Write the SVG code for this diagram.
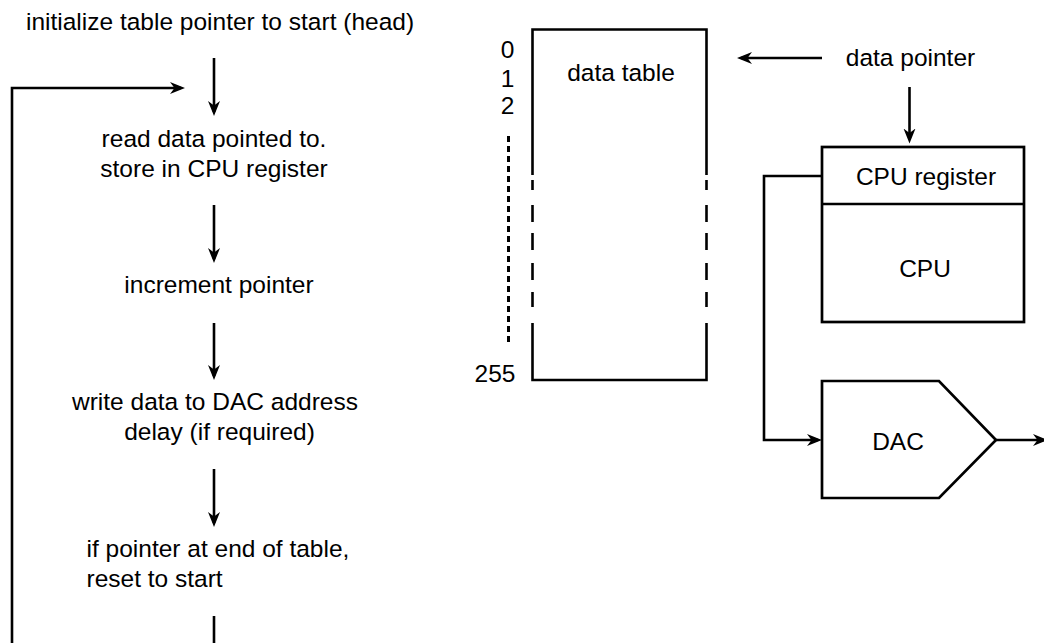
<svg xmlns="http://www.w3.org/2000/svg" width="1044" height="643" viewBox="0 0 1044 643">
  <defs>
    <marker id="arr" markerUnits="userSpaceOnUse" markerWidth="16" markerHeight="13" viewBox="0 0 16 13" refX="11" refY="6.5" orient="auto">
      <path d="M0,0.5 L15,6.5 L0,12.5 L4.5,6.5 Z" fill="#000"/>
    </marker>
    <style>
      text { font-family: "Liberation Sans", Arial, sans-serif; font-size: 24.5px; fill: #000; }
      .c { text-anchor: middle; }
      .e { text-anchor: end; }
      .ln { stroke: #000; stroke-width: 2.6; fill: none; }
      .box { stroke: #000; stroke-width: 2.7; fill: #fff; }
    </style>
  </defs>
  <rect width="1044" height="643" fill="#fff"/>

  <g id="connectors">
    <line class="ln" x1="214" y1="58" x2="214" y2="112" marker-end="url(#arr)"/>
    <line class="ln" x1="214" y1="205" x2="214" y2="259" marker-end="url(#arr)"/>
    <line class="ln" x1="214" y1="323" x2="214" y2="376" marker-end="url(#arr)"/>
    <line class="ln" x1="214" y1="469" x2="214" y2="523" marker-end="url(#arr)"/>
    <line class="ln" x1="214" y1="616" x2="214" y2="650"/>
    <polyline class="ln" points="12,650 12,88 181,88" marker-end="url(#arr)"/>
    <line class="ln" x1="822" y1="58" x2="741" y2="58" marker-end="url(#arr)"/>
    <line class="ln" x1="909.5" y1="87" x2="909.5" y2="139.5" marker-end="url(#arr)"/>
    <polyline class="ln" points="822,176 764,176 764,440 818,440" marker-end="url(#arr)"/>
    <line class="ln" x1="996" y1="440" x2="1044" y2="440" marker-end="url(#arr)"/>
  </g>

  <g id="flow">
    <text class="c" x="220" y="30">initialize table pointer to start (head)</text>
    <text class="c" x="214" y="146.5">read data pointed to.</text>
    <text class="c" x="214" y="176.5">store in CPU register</text>
    <text class="c" x="219" y="292.5">increment pointer</text>
    <text class="c" x="215" y="410">write data to DAC address</text>
    <text class="c" x="219.5" y="440">delay (if required)</text>
    <text x="86.5" y="557">if pointer at end of table,</text>
    <text x="86.5" y="587">reset to start</text>
  </g>

  <g id="data-table">
    <path class="ln" stroke-width="2.7" d="M532.5,175 V29.5 H706.5 V175 M532.5,323 V380 H706.5 V323"/>
    <path class="ln" stroke-width="2.7" d="M532.5,180 V190 M532.5,205 V222 M532.5,233 V250 M532.5,263 V280 M532.5,292 V307 M706.5,180 V190 M706.5,205 V222 M706.5,233 V250 M706.5,263 V280 M706.5,292 V307"/>
    <line x1="508.5" y1="136" x2="508.5" y2="342" stroke="#000" stroke-width="3" stroke-dasharray="6 4"/>
    <text class="c" x="621" y="81">data table</text>
    <text class="e" x="514.5" y="58.3">0</text>
    <text class="e" x="514.5" y="86.7">1</text>
    <text class="e" x="514.5" y="114">2</text>
    <text class="e" x="515.5" y="381.5">255</text>
  </g>

  <g id="data-pointer">
    <text class="c" x="910.5" y="66">data pointer</text>
  </g>

  <g id="cpu">
    <rect class="box" x="822" y="147" width="202" height="175"/>
    <line class="ln" x1="822" y1="204" x2="1024" y2="204" stroke-width="2.7"/>
    <text class="c" x="926" y="185">CPU register</text>
    <text class="c" x="925" y="276.5">CPU</text>
  </g>

  <g id="dac">
    <polygon class="box" points="822,381 939,381 996,440 939,498 822,498"/>
    <text class="c" x="898" y="450">DAC</text>
  </g>
</svg>
